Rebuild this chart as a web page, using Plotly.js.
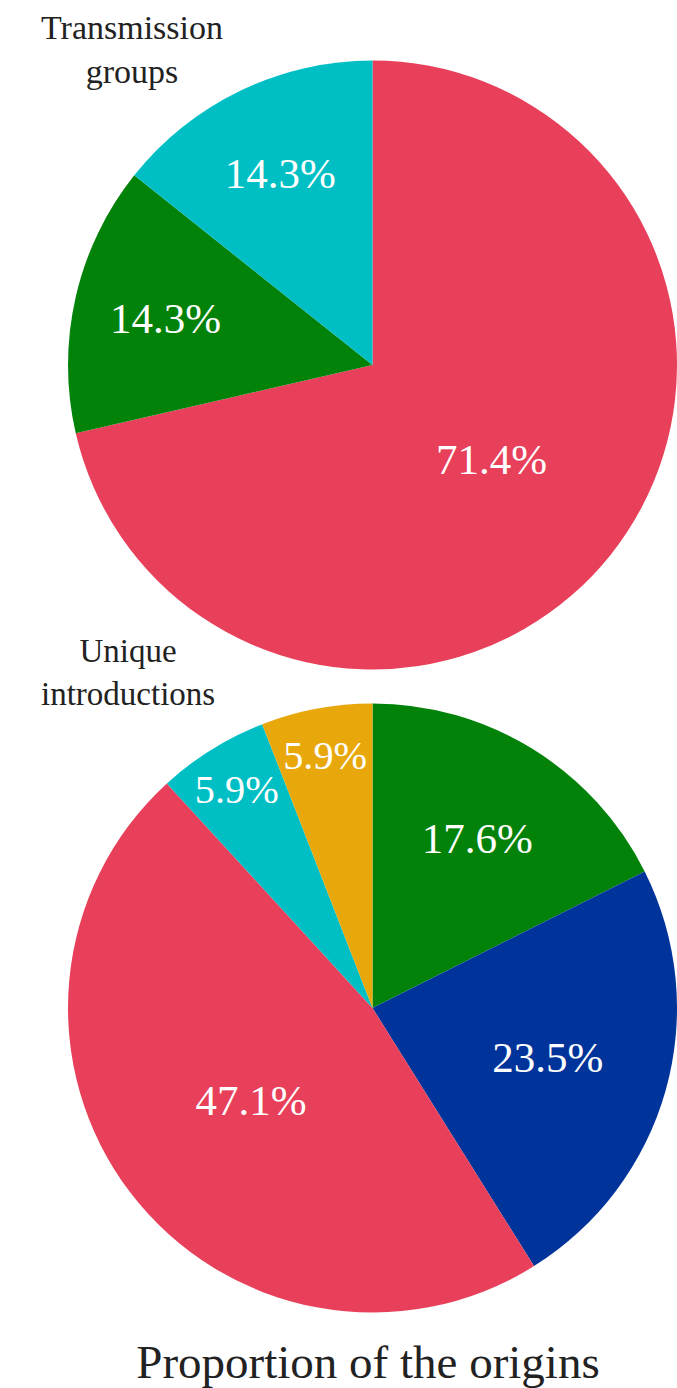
<!DOCTYPE html>
<html>
<head>
<meta charset="utf-8">
<script src="https://cdn.plot.ly/plotly-3.0.1.min.js"></script>
<style>html,body{margin:0;padding:0;background:#fff;}#chart{width:677px;height:1388px;}</style>
</head>
<body>
<div id="chart"></div>
<script>
// Transmission groups (clockwise from 12 o'clock)
const groupLabels = ["Red origin", "Green origin", "Cyan origin"];
const groupValues = [71.4, 14.3, 14.3];
const groupColors = ["#E8405A", "#03820A", "#00BFC4"];

// Unique introductions (clockwise from 12 o'clock)
const introLabels = ["Green origin", "Blue origin", "Red origin", "Cyan origin", "Orange origin"];
const introValues = [17.6, 23.5, 47.1, 5.9, 5.9];
const introColors = ["#03820A", "#00349B", "#E8405A", "#00BFC4", "#E8A80C"];

const pctText = v => v.toFixed(1) + "%";
const serif = "'Liberation Serif', 'Times New Roman', serif";

const W = 677, H = 1388;
const cx = 373, r = 305;
const topCy = 365, botCy = 1008;
function dom(cy) {
  return {
    x: [Math.max(0, (cx - r) / W), Math.min(1, (cx + r) / W)],
    y: [1 - (cy + r) / H, 1 - (cy - r) / H]
  };
}

const common = {
  type: "pie",
  sort: false,
  direction: "clockwise",
  rotation: 0,
  textinfo: "text",
  textposition: "inside",
  insidetextorientation: "horizontal",
  insidetextfont: {family: serif, size: 43, color: "#ffffff"},
  hoverinfo: "label+percent",
  showlegend: false
};

const data = [
  Object.assign({}, common, {
    labels: groupLabels, values: groupValues,
    text: groupValues.map(pctText),
    marker: {colors: groupColors, line: {width: 0}},
    domain: dom(topCy)
  }),
  Object.assign({}, common, {
    labels: introLabels, values: introValues,
    text: introValues.map(pctText),
    marker: {colors: introColors, line: {width: 0}},
    domain: dom(botCy)
  })
];

const ann = (text, x, y, size) => ({
  text: text, xref: "paper", yref: "paper",
  x: x / W, y: 1 - y / H, xanchor: "center", yanchor: "middle",
  showarrow: false, font: {family: serif, size: size, color: "#222222"}
});

const layout = {
  width: W, height: H,
  margin: {l: 0, r: 0, t: 0, b: 0},
  paper_bgcolor: "#ffffff",
  title: {
    text: "Proportion of the origins",
    font: {family: serif, size: 47, color: "#222222"},
    x: 368 / W, xanchor: "center",
    y: 1 - 1362 / H, yanchor: "middle", yref: "container"
  },
  annotations: [
    ann("Transmission<br>groups", 132, 50, 34),
    ann("Unique<br>introductions", 128, 672, 33)
  ]
};

Plotly.newPlot("chart", data, layout, {displayModeBar: false, staticPlot: true});
</script>
</body>
</html>
